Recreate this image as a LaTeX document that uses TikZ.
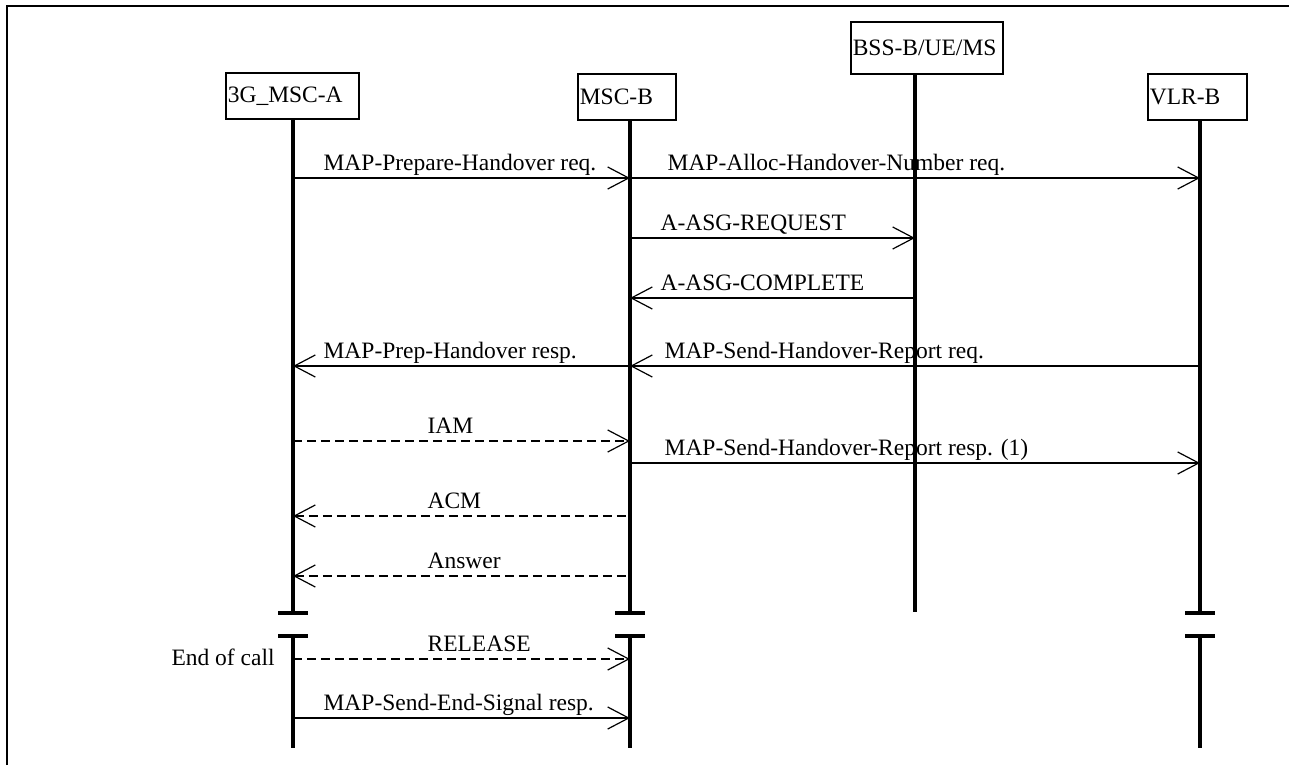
\documentclass[tikz,border=0pt]{standalone}
\usepackage{fontspec}
\setmainfont{Liberation Serif}
\usetikzlibrary{arrows.meta}

\begin{document}
\begin{tikzpicture}[x=0.5pt,y=-0.5pt,>={Straight Barb[length=10.5pt,width=11pt]}]
  \tikzstyle{entity}=[rectangle,draw=black,line width=0.8pt,anchor=north west,inner xsep=1pt,inner ysep=0pt,align=left,font=\fontsize{11.75}{14}\selectfont]
  \tikzstyle{life}=[line width=2pt]
  \tikzstyle{bar}=[line width=1.75pt]
  \tikzstyle{msg}=[line width=0.6pt]
  \tikzstyle{sig}=[msg,dash pattern=on 4.5pt off 2.5pt]
  \tikzstyle{lbl}=[anchor=base west,inner sep=0pt,yshift=4pt,font=\fontsize{11.75}{14}\selectfont]
  \tikzstyle{note}=[anchor=base east,inner sep=0pt,font=\fontsize{11.75}{14}\selectfont]

  \useasboundingbox (0,0) rectangle (1289,765);
  \draw[line width=0.6pt] (7,765) -- (7,6) -- (1289,6);

  % entities
  \node[entity,text width=64.5pt,minimum height=23pt] (mscA) at (225,72) {3G\_MSC-A};
  \node[entity,text width=47pt,minimum height=23pt] (mscB) at (577,73) {MSC-B};
  \node[entity,text width=74pt,minimum height=26pt] (bss) at (850,21) {BSS-B/UE/MS};
  \node[entity,text width=47.5pt,minimum height=23pt] (vlrB) at (1147,73) {VLR-B};

  % lifelines and rows
  \coordinate (la) at (293,0);
  \coordinate (lb) at (630,0);
  \coordinate (lc) at (915,0);
  \coordinate (ld) at (1200,0);
  \coordinate (m1) at (0,178);
  \coordinate (m2) at (0,238);
  \coordinate (m3) at (0,298);
  \coordinate (m4) at (0,366);
  \coordinate (m5) at (0,441);
  \coordinate (m6) at (0,463);
  \coordinate (m7) at (0,516);
  \coordinate (m8) at (0,576);
  \coordinate (m9) at (0,659);
  \coordinate (m10) at (0,718);
  \coordinate (cut1) at (0,613);
  \coordinate (cut2) at (0,636);
  \coordinate (bot) at (0,748);
  \coordinate (bssend) at (0,612);

  \foreach \l/\n in {la/mscA,lb/mscB,ld/vlrB} {
    \draw[life] (\n.south -| \l) -- (\l |- cut1);
    \draw[bar] (\l |- cut1) +(-15,0) -- +(15,0);
    \draw[bar] (\l |- cut2) +(-15,0) -- +(15,0);
    \draw[life] (\l |- cut2) -- (\l |- bot);
  }
  \draw[life] (bss.south -| lc) -- (lc |- bssend);

  % messages
  \draw[msg,->] (la |- m1) -- node[lbl,pos=0,xshift=15pt] {MAP-Prepare-Handover req.} (lb |- m1);
  \draw[msg,->] (lb |- m1) -- node[lbl,pos=0,xshift=18.5pt] {MAP-Alloc-Handover-Number req.} (ld |- m1);
  \draw[msg,->] (lb |- m2) -- node[lbl,pos=0,xshift=15pt] {A-ASG-REQUEST} (lc |- m2);
  \draw[msg,<-] (lb |- m3) -- node[lbl,pos=0,xshift=15pt] {A-ASG-COMPLETE} (lc |- m3);
  \draw[msg,<-] (la |- m4) -- node[lbl,pos=0,xshift=15pt] {MAP-Prep-Handover resp.} (lb |- m4);
  \draw[msg,<-] (lb |- m4) -- node[lbl,pos=0,xshift=17pt] {MAP-Send-Handover-Report req.} (ld |- m4);
  \draw[sig,->] (la |- m5) -- node[lbl,pos=0,xshift=67pt] {IAM} (lb |- m5);
  \draw[msg,->] (lb |- m6) -- node[lbl,pos=0,xshift=17pt] {MAP-Send-Handover-Report resp. (1)} (ld |- m6);
  \draw[sig,<-] (la |- m7) -- node[lbl,pos=0,xshift=67pt] {ACM} (lb |- m7);
  \draw[sig,<-] (la |- m8) -- node[lbl,pos=0,xshift=67pt] {Answer} (lb |- m8);
  \draw[sig,->] (la |- m9) -- node[lbl,pos=0,xshift=67pt] {RELEASE} (lb |- m9);
  \draw[msg,->] (la |- m10) -- node[lbl,pos=0,xshift=15pt] {MAP-Send-End-Signal resp.} (lb |- m10);
  \node[note,xshift=-9pt,yshift=-3pt] (eoc) at (la |- m9) {End of call};
\end{tikzpicture}
\end{document}
